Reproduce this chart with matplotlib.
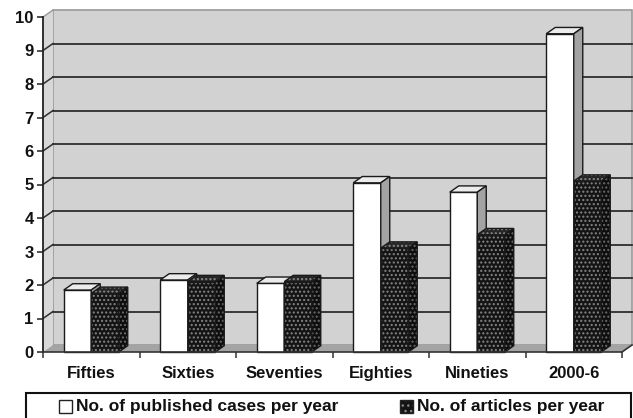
import matplotlib
matplotlib.use("Agg")
import matplotlib.pyplot as plt
from matplotlib.patches import Polygon, Rectangle

plt.rcParams['font.family'] = ['Liberation Sans', 'DejaVu Sans']
plt.rcParams['font.weight'] = 'bold'

categories = ["Fifties", "Sixties", "Seventies", "Eighties", "Nineties", "2000-6"]
published_cases = [1.85, 2.15, 2.05, 5.05, 4.77, 9.5]
articles = [1.75, 2.1, 2.1, 3.1, 3.5, 5.1]
series_names = ["No. of published cases per year", "No. of articles per year"]
yticks = list(range(0, 11))

W, H = 633, 418
fig = plt.figure(figsize=(W / 100, H / 100), dpi=100)
ax_l, ax_b, ax_w, ax_h = 43, 66, 579, 335
ax = fig.add_axes([ax_l / W, ax_b / H, ax_w / W, ax_h / H])
n = len(categories)
ax.set_xlim(0, n)
ax.set_ylim(0, 10)

# pixel -> data offsets for the 3D depth
px_x = n / ax_w
px_y = 10 / ax_h
DX, DY = 10 * px_x, 7 * px_y          # wall depth
BDX, BDY = 9 * px_x, 6.3 * px_y       # bar depth
bar_w = 27.5 * px_x

def poly(pts, **kw):
    p = Polygon(pts, closed=True, clip_on=False, **kw)
    ax.add_patch(p)
    return p

# back wall, side wall, floor
poly([(DX, DY), (n + DX, DY), (n + DX, 10 + DY), (DX, 10 + DY)],
     facecolor='#d2d2d2', edgecolor='#9a9a9a', lw=1.2, zorder=0.5)
poly([(0, 0), (DX, DY), (DX, 10 + DY), (0, 10)],
     facecolor='#d8d8d8', edgecolor='none', zorder=0.6)
poly([(0, 0), (n, 0), (n + DX, DY), (DX, DY)],
     facecolor='#a4a4a4', edgecolor='none', zorder=0.7)
ax.plot([n, n + DX], [0, DY], color='#333333', lw=1.2, clip_on=False, zorder=0.8)

# gridlines on the back wall and side wall
for v in yticks[1:-1]:
    ax.plot([DX, n + DX], [v + DY, v + DY], color='#2e2e2e', lw=1.3,
            clip_on=False, zorder=0.8)
    ax.plot([0, DX], [v, v + DY], color='#2e2e2e', lw=1.1,
            clip_on=False, zorder=0.8)
ax.plot([0, DX], [10, 10 + DY], color='#9a9a9a', lw=1.0, clip_on=False, zorder=0.8)

def bar3d(x0, h, dark, z):
    x1 = x0 + bar_w
    if dark:
        faces = [('#141414', '#858585'), ('#262626', '#8a8a8a'), ('#0e0e0e', '#6a6a6a')]
    else:
        faces = [('#ffffff', None), ('#ececec', None), ('#a3a3a3', None)]
    shapes = [
        [(x0, 0), (x1, 0), (x1, h), (x0, h)],
        [(x0, h), (x1, h), (x1 + BDX, h + BDY), (x0 + BDX, h + BDY)],
        [(x1, 0), (x1 + BDX, BDY), (x1 + BDX, h + BDY), (x1, h)],
    ]
    for k, (pts, (fc, hc)) in enumerate(zip(shapes, faces)):
        if hc is not None:
            poly(pts, facecolor=fc, edgecolor=hc, hatch='....', lw=0, zorder=z + k * 0.01)
        else:
            poly(pts, facecolor=fc, edgecolor='none', zorder=z + k * 0.01)
        poly(pts, fill=False, edgecolor='#1a1a1a', lw=1.0, zorder=z + k * 0.01 + 0.005)

z = 1.0
for i in range(n):
    c = i + 0.5
    bar3d(c - bar_w, published_cases[i], False, z)
    z += 0.1
    bar3d(c, articles[i], True, z)
    z += 0.1

# axes
for s in ['top', 'right']:
    ax.spines[s].set_visible(False)
ax.spines['left'].set_color('#222222')
ax.spines['left'].set_linewidth(1.3)
ax.spines['bottom'].set_color('#333333')
ax.spines['bottom'].set_linewidth(1.2)
ax.spines['left'].set_zorder(5)
ax.spines['bottom'].set_zorder(5)
ax.set_facecolor('none')

ax.set_yticks(yticks)
ax.set_yticklabels([str(v) for v in yticks], fontsize=12, fontweight='bold', color='#111111')
ax.tick_params(axis='y', direction='out', length=4.3, width=1.1, color='#222222', pad=2.5)

ax.set_xticks(range(n + 1))
ax.set_xticklabels([])
ax.tick_params(axis='x', which='major', direction='out', length=4.3, width=1.1, color='#333333')
ax.set_xticks([i + 0.5 for i in range(n)], minor=True)
ax.set_xticklabels(categories, minor=True, fontsize=12, fontweight='bold', color='#111111')
ax.tick_params(axis='x', which='minor', length=0, pad=18.5)
for lab in ax.get_xticklabels(minor=True):
    lab.set_verticalalignment('baseline')

# legend box
fig.patches.append(Rectangle((26 / W, -0.05), (631 - 26) / W, (H - 393) / H + 0.05,
                             transform=fig.transFigure, facecolor='white',
                             edgecolor='#111111', lw=1.5, zorder=3))
sq = 13
ty = 406
for sx, tx, label, dark in [(59, 76, series_names[0], False), (400, 417, series_names[1], True)]:
    if dark:
        fig.patches.append(Rectangle((sx / W, (H - ty - sq / 2) / H), sq / W, sq / H,
                                     transform=fig.transFigure, facecolor='#141414',
                                     edgecolor='#858585', hatch='...', lw=0, zorder=4))
    fig.patches.append(Rectangle((sx / W, (H - ty - sq / 2) / H), sq / W, sq / H,
                                 transform=fig.transFigure,
                                 facecolor='white' if not dark else 'none',
                                 edgecolor='#222222', lw=1.0, zorder=4.1))
    fig.text(tx / W, (H - ty) / H, label, fontsize=12.5, fontweight='bold',
             color='#111111', ha='left', va='center', zorder=5)

fig.savefig("out.png", dpi=100)
